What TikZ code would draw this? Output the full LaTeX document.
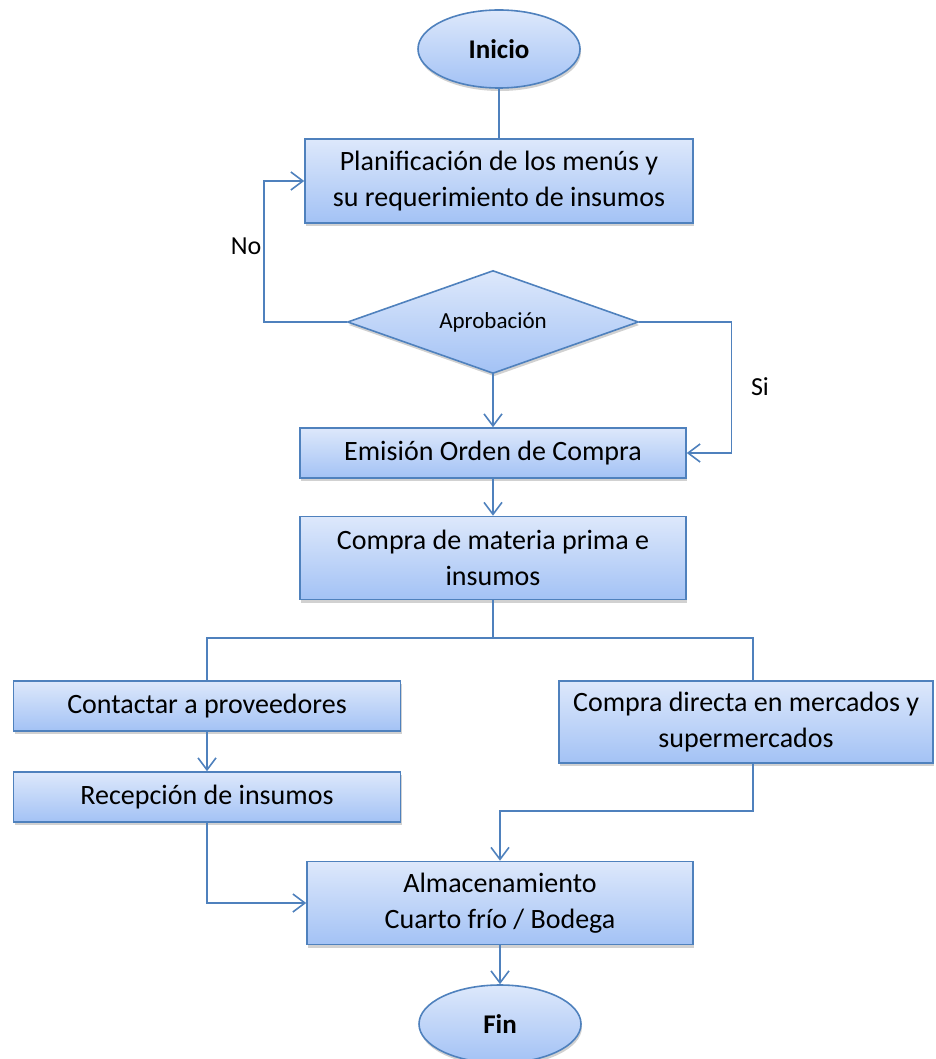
\documentclass[tikz,border=0pt]{standalone}
\usepackage{fontspec}
\setmainfont{Carlito}
\usetikzlibrary{shapes.geometric,shadows,arrows.meta}
\definecolor{azul}{HTML}{4F81BD}
\definecolor{claro}{HTML}{DDE8FB}
\definecolor{oscuro}{HTML}{A3C2F5}
\begin{document}
\begin{tikzpicture}[x=1pt,y=-1pt,
    caja/.style={draw=azul, line width=1.6pt, top color=claro, bottom color=oscuro,
      align=center, inner sep=0pt, font=\fontsize{28}{36}\selectfont,
      drop shadow={shadow xshift=1pt, shadow yshift=-3pt, opacity=0.3, fill=black!60}},
    terminal/.style={caja, ellipse, minimum width=162pt, minimum height=78pt,
      font=\fontsize{27}{30}\selectfont\bfseries},
    decision/.style={caja, diamond, aspect=2.83, minimum width=291pt, minimum height=103pt,
      font=\fontsize{23}{26}\selectfont},
    enlace/.style={draw=azul, line width=1.6pt},
    flecha/.style={enlace, -{Straight Barb[length=12pt,width=18pt]}},
    rotulo/.style={font=\fontsize{26}{30}\selectfont}]
  \useasboundingbox (0,0) rectangle (935,1059);
  % nodos
  \node[terminal] (inicio) at (499,49) {Inicio};
  \node[caja, minimum width=388pt, minimum height=84pt] (plan) at (499,181) {Planificación de los menús y\\su requerimiento de insumos};
  \node[decision] (apro) at (493,322) {Aprobación};
  \node[caja, minimum width=386pt, minimum height=50pt] (emis) at (493,453) {Emisión Orden de Compra};
  \node[caja, minimum width=386pt, minimum height=83pt] (compra) at (493,558) {Compra de materia prima e\\insumos};
  \node[caja, minimum width=387pt, minimum height=50pt] (contac) at (207,706) {Contactar a proveedores};
  \node[caja, minimum width=387pt, minimum height=50pt] (recep) at (207,797) {Recepción de insumos};
  \node[caja, minimum width=374pt, minimum height=82pt] (directa) at (746,722) {Compra directa en mercados y\\supermercados};
  \node[caja, minimum width=386pt, minimum height=83pt] (almac) at (500,903) {Almacenamiento\\Cuarto frío / Bodega};
  \node[terminal] (fin) at (500,1024) {Fin};
  \node[rotulo] (no) at (246,246) {No};
  \node[rotulo] (si) at (760,387) {Si};
  % conectores
  \draw[enlace] (inicio) -- (plan);
  \draw[flecha] (apro.west) -- ++(-83,0) |- (plan.west);
  \draw[flecha] (apro.east) -- ++(92,0) |- (emis.east);
  \draw[flecha] (apro) -- (emis);
  \draw[flecha] (emis) -- (compra);
  \coordinate (rama) at (493,638);
  \coordinate (ramaD) at (753,638);
  \draw[enlace] (compra) -- (rama);
  \draw[enlace] (contac.north) |- (ramaD) -- (ramaD |- directa.north);
  \draw[flecha] (contac) -- (recep);
  \draw[flecha] (ramaD |- directa.south) -- ++(0,47) -| (almac.north);
  \draw[flecha] (recep.south) |- (almac.west);
  \draw[flecha] (almac) -- (fin);
\end{tikzpicture}
\end{document}
